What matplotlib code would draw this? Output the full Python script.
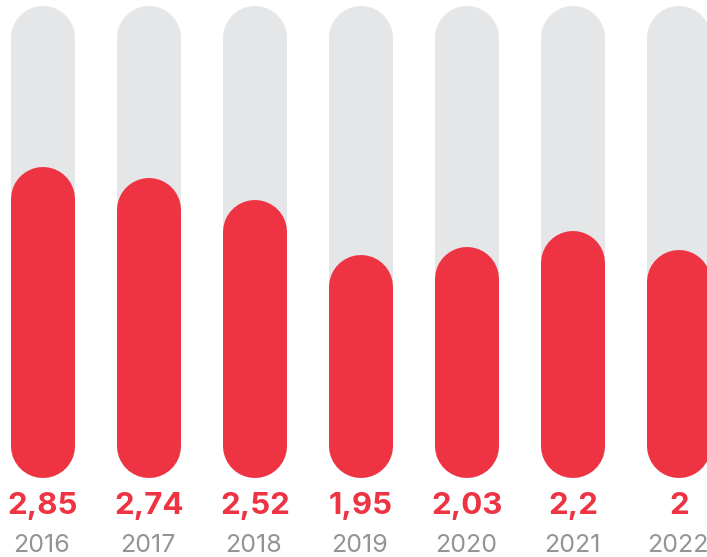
import matplotlib.pyplot as plt

anos = ['2016', '2017', '2018', '2019', '2020', '2021', '2022']
valores = [2.85, 2.74, 2.52, 1.95, 2.03, 2.2, 2.0]
etiquetas = ['2,85', '2,74', '2,52', '1,95', '2,03', '2,2', '2']
maximo = 4.5

rojo = '#EE3342'
gris_fondo = '#E5E6E8'
gris_texto = '#939498'

fig = plt.figure(figsize=(7.07, 5.57), dpi=100)
ax = fig.add_axes([0, 0, 1, 1])

escala = 97.8           # px por unidad
ancho = 64 * 72 / 100   # 64 px en puntos
radio = 32 / escala     # radio del extremo redondeado en unidades

for i, v in enumerate(valores):
    ax.plot([i, i], [radio, maximo], color=gris_fondo, lw=ancho, solid_capstyle='round')
    ax.plot([i, i], [radio, v], color=rojo, lw=ancho, solid_capstyle='round')
    ax.text(i, 51 / 557, etiquetas[i], transform=ax.get_xaxis_transform(),
            ha='center', va='center', color=rojo, fontsize=22.5,
            fontweight='bold', family='Inter')
    ax.text(i - 0.01, 12 / 557, anos[i], transform=ax.get_xaxis_transform(),
            ha='center', va='center', color=gris_texto, fontsize=18,
            fontweight='normal', family='Inter')

ax.set_xlim(-43 / 106, (707 - 43) / 106)
ax.set_ylim(-79 / escala, (557 - 79) / escala)
ax.axis('off')

fig.savefig('out.png', dpi=100)
